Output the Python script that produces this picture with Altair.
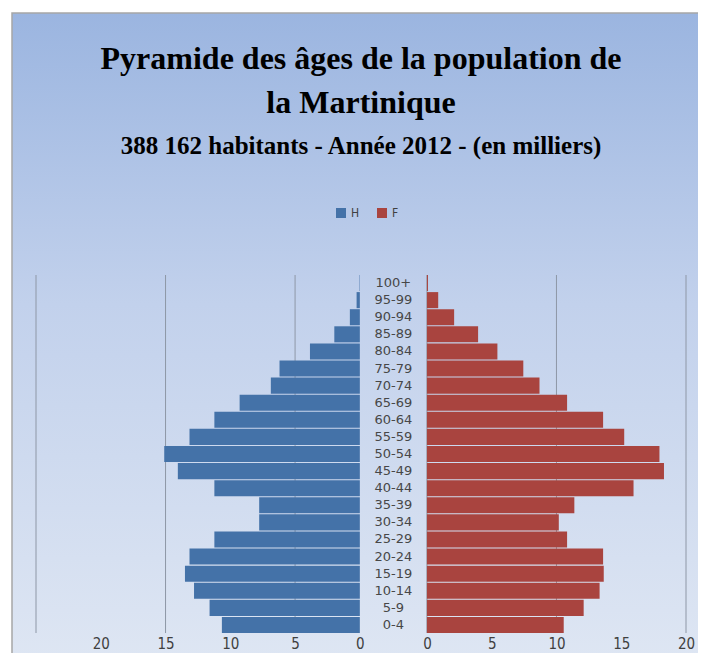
import altair as alt
import pandas as pd

# Age groups (bottom to top) and population in thousands
ages = ["0-4", "5-9", "10-14", "15-19", "20-24", "25-29", "30-34", "35-39",
        "40-44", "45-49", "50-54", "55-59", "60-64", "65-69", "70-74",
        "75-79", "80-84", "85-89", "90-94", "95-99", "100+"]
hommes = [10.65, 11.6, 12.8, 13.5, 13.15, 11.23, 7.77, 7.77, 11.23, 14.05,
          15.1, 13.15, 11.23, 9.28, 6.87, 6.2, 3.85, 1.97, 0.77, 0.25, 0.03]
femmes = [10.56, 12.1, 13.33, 13.65, 13.6, 10.82, 10.18, 11.38, 15.95, 18.3,
          17.95, 15.23, 13.6, 10.82, 8.69, 7.44, 5.44, 3.95, 2.1, 0.87, 0.08]
tick_values = [0, 5, 10, 15, 20]
grid_h = [5, 15, 25]
grid_f = [0, 10, 20]

GAP = 2.59
BLUE = "#4472A8"
RED = "#A9443F"

rows = []
for a, h, f in zip(ages, hommes, femmes):
    rows.append({"age": a, "sexe": "H", "val": h})
    rows.append({"age": a, "sexe": "F", "val": f})
df = pd.DataFrame(rows)

grid_df = pd.DataFrame({"pos": [-(g + GAP) for g in grid_h] + [g + GAP for g in grid_f]})
age_df = pd.DataFrame({"age": ages})

xscale = alt.Scale(domain=[-(25 + GAP), 20 + GAP], nice=False, zero=False)
yscale = alt.Scale(domain=list(reversed(ages)), paddingInner=0.06, paddingOuter=0)
axis_vals = [-(t + GAP) for t in tick_values] + [t + GAP for t in tick_values]

bg = alt.Chart(pd.DataFrame({"a": [0]})).mark_rect(
    color=alt.LinearGradient(
        gradient="linear",
        stops=[alt.GradientStop(color="#9BB5E0", offset=0),
               alt.GradientStop(color="#C2D1EC", offset=0.45),
               alt.GradientStop(color="#DEE6F3", offset=1)],
        x1=0, x2=0, y1=0, y2=1),
    stroke="#A6A6A6", strokeWidth=1.5,
).encode(x=alt.value(-24), x2=alt.value(700), y=alt.value(-262), y2=alt.value(385))

grid = alt.Chart(grid_df).mark_rule(color="#8E97A6", strokeWidth=1).encode(
    x=alt.X("pos:Q", scale=xscale)
)

bars = alt.Chart(df).transform_calculate(
    start=f"datum.sexe == 'H' ? -{GAP} : {GAP}",
    end=f"datum.sexe == 'H' ? -{GAP} - datum.val : {GAP} + datum.val",
).mark_bar(cornerRadius=0).encode(
    y=alt.Y("age:N", scale=yscale, axis=None),
    x=alt.X("end:Q", scale=xscale, title=None,
            axis=alt.Axis(values=axis_vals, grid=False, ticks=False, domain=False,
                          labelExpr=f"format(abs(datum.value) - {GAP}, '.0f')",
                          labelFontSize=15, labelColor="#404040", labelFont="DejaVu Sans Condensed",
                          labelPadding=3, zindex=1, labelFlush=False)),
    x2="start:Q",
    color=alt.Color("sexe:N", scale=alt.Scale(domain=["H", "F"], range=[BLUE, RED]),
                    legend=alt.Legend(title=None, orient="none", direction="horizontal",
                                      legendX=299, legendY=-68, symbolType="square",
                                      symbolSize=100, symbolStrokeWidth=0, labelFontSize=12,
                                      labelColor="#404040", labelFont="DejaVu Sans Condensed",
                                      columnPadding=16, labelOffset=4)),
)

labels = alt.Chart(age_df).mark_text(fontSize=13, color="#474747", font="DejaVu Sans").encode(
    y=alt.Y("age:N", scale=yscale, axis=None),
    x=alt.datum(0, scale=xscale),
    text="age:N",
)

chart = alt.layer(bg, grid, bars, labels).properties(
    width=650, height=358,
    title=alt.TitleParams(
        text=["Pyramide des âges de la population de", "la Martinique"],
        subtitle="388 162 habitants - Année 2012 - (en milliers)",
        font="Liberation Serif", fontSize=32, fontWeight="bold", color="black",
        lineHeight=44, subtitleFont="Liberation Serif", subtitleFontSize=25,
        subtitleFontWeight="bold", subtitleColor="black", subtitlePadding=14,
        anchor="middle", offset=-148,
    ),
    autosize=alt.AutoSizeParams(type="none"),
    padding={"left": 28, "top": 267, "right": 12, "bottom": 20},
).configure_view(stroke=None).configure(background="white")

chart.save("out.html", embed_options={"renderer": "svg", "actions": False})
